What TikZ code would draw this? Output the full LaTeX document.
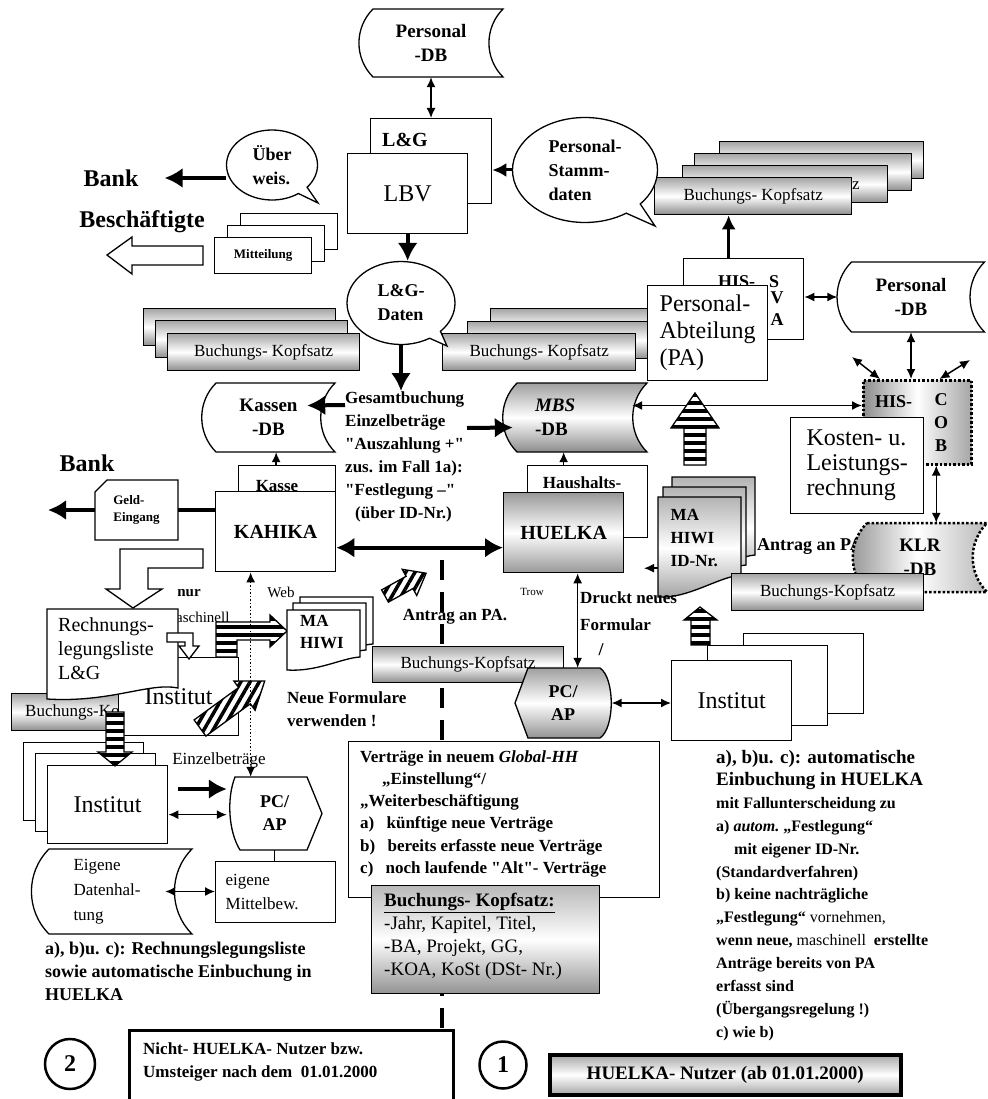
\documentclass[tikz,border=0pt]{standalone}
\usepackage{fontspec}
\setmainfont{Liberation Serif}
\usepackage{tikz}
\usetikzlibrary{arrows.meta,shapes.callouts,patterns.meta}
\tikzset{font={\fontsize{17pt}{22pt}\selectfont}}
\newcommand{\fsz}[2]{\fontsize{#1pt}{#2pt}\selectfont}
\newcommand{\dbstore}[4][]{\draw[line width=1.3pt,fill=white,#1,shift={(#2)}]
  (-#3/2+14,-#4/2) -- (#3/2,-#4/2) to[bend right=45] (#3/2,#4/2)
  -- (-#3/2+14,#4/2) to[bend left=45] (-#3/2+14,-#4/2) -- cycle;}

\begin{document}
\begin{tikzpicture}[x=1pt,y=-1pt,
box/.style={draw,line width=1.3pt,fill=white,inner sep=0pt,anchor=north west},
bar/.style={box,top color=gray!70,bottom color=gray!90,middle color=white,minimum height=37pt,font=\fsz{17}{20}},
tb/.style 2 args={inner sep=0pt,align=left,font=\bfseries\fsz{#1}{#2}},
tr/.style 2 args={inner sep=0pt,align=left,font=\fsz{#1}{#2}},
dbtxt/.style={inner sep=0pt,align=center,font=\bfseries\fsz{19}{24}},
call/.style={ellipse callout,draw,line width=1.3pt,fill=white,inner sep=0pt,align=left,font=\bfseries\fsz{18}{24}},
arr/.style={line width=1.5pt,-{Latex[length=10pt,width=9pt]}},
darr/.style={line width=1.5pt,{Latex[length=10pt,width=9pt]}-{Latex[length=10pt,width=9pt]}},
fat/.style={line width=4pt,-{Latex[length=18pt,width=20pt]}},
fatd/.style={line width=4pt,{Latex[length=18pt,width=20pt]}-{Latex[length=18pt,width=20pt]}},
midarr/.style={line width=3pt,-{Latex[length=14pt,width=14pt]}},
hollow/.style={draw,line width=1.3pt,fill=white},
striped/.style={draw,line width=1.3pt,preaction={fill=white},pattern={Lines[angle=#1,distance=8pt,line width=3.5pt]}},
dotline/.style={line width=2.5pt,dash pattern=on 2.5pt off 2pt}
]
\path[use as bounding box,fill=white] (0,0) rectangle (987,1099);
\draw[line width=4pt,dash pattern=on 20pt off 12pt] (442,560) -- (442,1035);

\dbstore{431,43}{144}{68}
\node[dbtxt,minimum width=144pt,minimum height=68pt] (persdb) at (431,43) {Personal\\-DB};
\node[box,minimum width=121pt,minimum height=85pt] (lg) at (370,118) {};
\node[tb={20}{24},anchor=west] (lgt) at (382,140) {L\&G};
\node[box,minimum width=120pt,minimum height=80pt,font=\fsz{24}{28}] (lbv) at (347,153) {LBV};
\draw[darr] (persdb.south) -- (persdb.south |- lg.north);

\foreach \px/\py/\w/\n in {719/141/204/1,694/153/217/2,682/165/205/3}
  \node[bar,minimum width=\w pt] (bk\n) at (\px,\py) {};
\node[tr={17}{20}] (bk3t) at (856,186) {z};
\node[bar,minimum width=197pt] (bk4) at (654,177) {Buchungs- Kopfsatz};

\node[call,minimum width=145pt,minimum height=105pt,callout absolute pointer={(655,226)}] (stamm) at (585,170) {Personal-\\Stamm-\\daten};
\draw[midarr] (stamm.west) -- (stamm.west -| lg.east);

\node[call,minimum width=91pt,minimum height=70pt,callout absolute pointer={(318,203)}] (ueber) at (272,165) {Über\\weis.};
\node[tb={24}{28}] (bank1) at (111,178) {Bank};
\draw[fat,shorten >=26pt] (ueber.west |- bank1) -- (bank1.east);
\node[tb={24}{28}] (besch) at (142,222) {Beschäftigte};
\draw[hollow] (203,246) -- (132,246) -- (132,237) -- (107,255) -- (132,274) -- (132,265) -- (203,265) -- cycle;
\foreach \d in {2,1}
  \node[box,minimum width=97pt,minimum height=36pt] (mitt\d) at (214+13*\d,237-12*\d) {};
\node[box,minimum width=97pt,minimum height=36pt,font=\bfseries\fsz{13}{15}] (mitt) at (214,237) {Mitteilung};

\foreach \px/\py/\n in {143/308/1,155/320/2}
  \node[bar,minimum width=192pt] (bl\n) at (\px,\py) {};
\node[bar,minimum width=192pt] (bl3) at (167,333) {Buchungs- Kopfsatz};
\foreach \px/\py/\n in {490/308/1,467/321/2}
  \node[bar,minimum width=193pt] (bm\n) at (\px,\py) {};
\node[bar,minimum width=193pt] (bm3) at (442,333) {Buchungs- Kopfsatz};

\node[call,minimum width=108pt,minimum height=83pt,callout absolute pointer={(447,346)}] (lgdaten) at (401,303) {L\&G-\\Daten};
\draw[fat] (lbv.south) -- (lbv.south |- lgdaten.north);

\node[box,minimum width=120pt,minimum height=81pt] (hissva) at (683,258) {};
\node[tb={18}{22},anchor=west] (hissvat) at (718,282) {HIS-\hspace{14pt}S};
\node[tb={18}{22},anchor=north] (hissvava) at (777,292) {V\\A};
\node[box,minimum width=120pt,minimum height=95pt,align=left,font=\fsz{24}{27}] (pa) at (647,285) {Personal-\\Abteilung\\(PA)};
\draw[midarr] ([xshift=-15pt]hissva.north) -- ([xshift=-15pt]hissva.north |- bk4.south);

\dbstore{911,297}{147}{70}
\node[dbtxt,minimum width=147pt,minimum height=70pt] (persdb2) at (911,297) {Personal\\-DB};
\draw[darr] (hissva.east |- persdb2) -- (persdb2.west);

\node[box,dotline,left color=gray!90,right color=gray!70,middle color=white,minimum width=108pt,minimum height=84pt] (hiscob) at (862,379) {};
\node[tb={18}{22},anchor=west] (hiscobt) at (875,402) {HIS-};
\node[tb={18}{23},anchor=north,align=center] (hiscobv) at (941,393) {C\\O\\B};
\coordinate (dl) at (852,357);
\coordinate (dr) at (970,360);
\draw[darr] (persdb2.south) -- (persdb2.south |- hiscob.north);
\draw[darr] (dl) -- ([xshift=18pt]hiscob.north west);
\draw[darr] (dr) -- ([xshift=-33pt]hiscob.north east);
\node[box,minimum width=133pt,minimum height=96pt,align=left,font=\fsz{24}{25}] (klr) at (790,417) {Kosten- u.\\Leistungs-\\rechnung};

\dbstore[top color=gray!75,bottom color=gray!90,middle color=white]{575,417.5}{144}{69}
\node[dbtxt,minimum width=144pt,minimum height=69pt,text width=80pt,align=left] (mbsdb) at (575,417.5) {\textit{MBS}\\-DB};
\draw[darr] ([xshift=-15pt,yshift=12pt]mbsdb.east) -- ([yshift=12pt]mbsdb.east -| hiscob.west);
\draw[striped=0] (684,465) -- (684,428) -- (671,428) -- (695,393) -- (719,428) -- (706,428) -- (706,465) -- cycle;

\dbstore{268.5,417.5}{133}{69}
\node[dbtxt,minimum width=133pt,minimum height=69pt] (kassendb) at (268.5,417.5) {Kassen\\-DB};
\node[tb={17}{23},anchor=north west] (gesamt) at (345,391) {Gesamtbuchung\\Einzelbeträge\\\textquotedbl Auszahlung +\textquotedbl\\zus. im Fall 1a):\\\textquotedbl Festlegung –\textquotedbl\\\hspace{10pt}(über ID-Nr.)};
\draw[fat] (lgdaten.south) -- (lgdaten.south |- gesamt.north);
\draw[fat] ([yshift=-14pt]gesamt.north west) -- ([xshift=-28pt,yshift=12pt]kassendb.east);
\draw[fat] ([xshift=122pt,yshift=-37pt]gesamt.north west) -- ([xshift=10pt,yshift=-10pt]mbsdb.west);

\node[box,minimum width=97pt,minimum height=60pt] (kasse) at (238,465) {};
\node[tb={17}{20}] (kasset) at (277,486) {Kasse};
\draw[arr] ([xshift=-11pt]kasse.north) -- ([xshift=-11pt]kasse.north |- kassendb.south);
\node[box,minimum width=120pt,minimum height=80pt,font=\bfseries\fsz{20}{24}] (kahika) at (215,491) {KAHIKA};

\node[tb={24}{28}] (bank2) at (87,463) {Bank};
\draw[line width=1.3pt,fill=white] (95,492) -- (107,480) -- (178,480) -- (178,540) -- (95,540) -- cycle;
\node[tb={13}{17},minimum width=83pt,minimum height=60pt] (geld) at (136.5,510) {Geld-\\Eingang};
\coordinate (geldout) at (48,510);
\draw[line width=4pt] (kahika.west |- geld.east) -- (geld.east);
\draw[fat] (geld.west) -- (geldout);

\node[box,minimum width=120pt,minimum height=72pt] (haushalt) at (527,465) {};
\node[tb={17}{20}] (haushaltt) at (582,483) {Haushalts-};
\draw[arr] ([xshift=-24pt]haushalt.north) -- ([xshift=-24pt]haushalt.north |- mbsdb.south);
\node[box,top color=gray!80,bottom color=gray!80,middle color=white,minimum width=120pt,minimum height=80pt,font=\bfseries\fsz{20}{24}] (huelka) at (503,492) {HUELKA};
\draw[fatd] ([yshift=-16pt]kahika.east) -- ([yshift=-15pt]huelka.west);

\foreach \px/\py in {672/477,663/487,658/497}
  \draw[line width=1.3pt,top color=gray!60,bottom color=gray!75,middle color=white,shift={(\px,\py)}] (0,0) -- (83,0) -- (83,78) .. controls (60,80) and (30,102) .. (0,100) -- cycle;
\node[tb={17}{23},anchor=north west,minimum width=83pt,minimum height=82pt,text width=58pt] (mahiwi) at (658,497) {MA\\HIWI\\ID-Nr.};
\draw[arr] ([yshift=-30pt]mahiwi.west) -- ++(-14,0);
\node[tb={18}{20},anchor=west] (antrag2) at (757,547) {Antrag an PA.};

\dbstore[dotline,left color=gray!85,right color=gray!55,middle color=white]{920,557.5}{134}{69}
\node[dbtxt,minimum width=134pt,minimum height=69pt] (klrdb) at (920,557.5) {KLR\\-DB};
\draw[darr] ([xshift=19pt]hiscob.south) -- ([xshift=19pt]hiscob.south |- klrdb.north);

\node[bar,minimum width=192pt] (bkr) at (731,573) {Buchungs-Kopfsatz};
\draw[striped=0] (691,645) -- (691,620) -- (684,620) -- (700,607) -- (717,620) -- (710,620) -- (710,645) -- cycle;
\foreach \px/\py/\n in {743/633/1,707/645/2}
  \node[box,minimum width=120pt,minimum height=80pt] (instr\n) at (\px,\py) {};
\node[box,minimum width=120pt,minimum height=80pt,font=\fsz{24}{28}] (instr3) at (671,660) {Institut};

\node[bar,minimum width=150pt] (bkl) at (11,693) {};
\node[tr={17}{20},anchor=west] (bklt) at (25,712) {Buchungs-Kopfsatz};
\node[box,minimum width=120pt,minimum height=78pt,font=\fsz{24}{28}] (instm) at (118,657) {Institut};
\node[font=\bfseries\fsz{15}{18}] (nur) at (189,593) {nur};
\node[font=\fsz{15}{18},anchor=east] (masch) at (233,617) {maschinell};
\draw[hollow] (203,549) -- (120,549) -- (120,589) -- (106,589) -- (133,608) -- (162,589) -- (148,589) -- (148,568) -- (203,568) -- cycle;
\draw[line width=1.3pt,fill=white] (47,609) -- (178,609) -- (178,688) .. controls (150,682) and (110,703) .. (47,699) -- cycle;
\node[tr={20}{24},anchor=north west] (rechliste) at (58,617) {Rechnungs-\\legungsliste\\L\&G};
\draw[hollow] (167,633) -- (193,633) -- (193,646) -- (199,646) -- (189,659) -- (179,646) -- (185,646) -- (185,642) -- (167,642) -- cycle;
\draw[striped=0] (216,657) -- (216,622) -- (270,622) -- (270,615) -- (287,631) -- (270,647) -- (270,640) -- (237,640) -- (237,657) -- cycle;
\draw[striped=60,shift={(200,728)},rotate=36] (0,-10) -- (55,-10) -- (55,-18) -- (80,0) -- (55,18) -- (55,10) -- (0,10) -- cycle;
\foreach \px/\py in {300/597,293/603,287/610}
  \draw[line width=1.3pt,fill=white,shift={(\px,\py)}] (0,0) -- (73,0) -- (73,47) .. controls (55,48) and (30,62) .. (0,60) -- cycle;
\node[tb={17}{22},anchor=north west] (mahiwil) at (300,615) {MA\\HIWI};
\node[font=\fsz{15}{18}] (web) at (281,592) {Web};
\node[bar,minimum width=191pt,minimum height=36pt] (bkc) at (372,646) {Buchungs-Kopfsatz};

\draw[line width=1.3pt,top color=gray!75,bottom color=gray!85,middle color=white,shift={(563,703)}] (-35,-35) -- (37,-35) .. controls (52,-25) and (52,25) .. (37,35) -- (-35,35) -- (-48,0) -- cycle;
\node[tb={18}{23},align=center,minimum width=97pt,minimum height=70pt] (pcap1) at (563,703) {PC/\\AP};
\draw[darr] (pcap1.east) -- (pcap1.east -| instr3.west);
\draw[darr] ([xshift=14pt]huelka.south) -- ([xshift=14pt]huelka.south |- pcap1.north);
\node[tb={17}{27},anchor=north west] (druckt) at (580,591) {Druckt neues\\Formular};
\node[tb={18}{20}] (slash) at (601,650) {/};
\node[font=\fsz{11}{13}] (trow) at (532,592) {Trow};

\draw[striped=60,shift={(385,596)},rotate=29] (0,-7) -- (28,-7) -- (28,-15) -- (47,0) -- (28,15) -- (28,7) -- (0,7) -- cycle;
\node[tb={17}{20}] (antrag1) at (455,617) {Antrag an PA.};
\node[tb={17}{23},anchor=north west] (neue) at (287,691) {Neue Formulare\\verwenden !};

\foreach \px/\py/\n in {23/742/1,35/753/2}
  \node[box,minimum width=120pt,minimum height=78pt] (instl\n) at (\px,\py) {};
\node[box,minimum width=120pt,minimum height=78pt,font=\fsz{24}{28}] (instl3) at (47,765) {Institut};
\draw[striped=0] (106,712) -- (124,712) -- (124,752) -- (132,752) -- (115,766) -- (98,752) -- (106,752) -- cycle;
\node[tr={17}{20}] (einz) at (219,760) {Einzelbeträge};

\draw[line width=1.3pt,fill=white,shift={(274.5,813.5)}] (-39.5,-36.5) -- (32.5,-36.5) -- (47.5,0) -- (32.5,36.5) -- (-34.5,36.5) .. controls (-46,18) and (-48,-15) .. (-39.5,-36.5) -- cycle;
\node[tb={18}{23},align=center,minimum width=95pt,minimum height=73pt] (pcap2) at (274.5,813.5) {PC/\\AP};
\coordinate (ein) at (178,789);
\draw[fat] (ein) -- (ein -| pcap2.west);
\draw[darr] ([yshift=-10pt]instl3.east) -- ([yshift=-10pt]instl3.east -| pcap2.west);
\draw[darr,dotted] ([xshift=-25pt]kahika.south) -- ([xshift=-25pt]kahika.south |- pcap2.north);
\node[box,minimum width=120pt,minimum height=61pt,font=\fsz{17}{24},align=left,text width=100pt] (mittel) at (215,861) {eigene\\Mittelbew.};
\draw[line width=1.3pt] (pcap2.south) -- (pcap2.south |- mittel.north);
\dbstore{113.5,891.5}{157}{85}
\node[tr={17}{25},minimum width=157pt,minimum height=85pt,text width=80pt] (eigene) at (113.5,891.5) {Eigene\\Datenhal-\\tung};
\draw[darr] ([xshift=-27pt]eigene.east) -- (eigene.east -| mittel.west);

\node[tb={18}{23},anchor=north west] (notel) at (45,942) {a), b)u. c): Rechnungslegungsliste\\sowie automatische Einbuchung in\\HUELKA};
\node[circle,draw,line width=2.5pt,minimum size=50pt,inner sep=0pt,font=\bfseries\fsz{24}{28}] (c2) at (70,1064) {2};
\node[box,line width=3pt,minimum width=324pt,minimum height=80pt] (nicht) at (128,1029) {};
\node[tb={17}{23},anchor=north west] (nichtt) at (143,1042) {Nicht- HUELKA- Nutzer bzw.\\Umsteiger nach dem\ \ 01.01.2000};

\node[box,minimum width=311pt,minimum height=156pt] (vertr) at (348,741) {};
\node[tb={17}{22.3},anchor=north west] (vertrt) at (360,750) {Verträge in neuem \textit{Global-HH}\\\hspace{22pt}„Einstellung“/\\„Weiterbeschäftigung\\a)\hspace{8pt} künftige neue Verträge\\b)\hspace{8pt} bereits erfasste neue Verträge\\c)\hspace{8pt} noch laufende \textquotedbl Alt\textquotedbl- Verträge};
\node[box,top color=gray!55,bottom color=gray!85,middle color=white,minimum width=228pt,minimum height=108pt] (bkbox) at (371,885) {};
\node[tr={19}{23},anchor=north west] (bkboxt) at (384,893) {\textbf{\underline{Buchungs- Kopfsatz:}}\\-Jahr, Kapitel, Titel,\\-BA, Projekt, GG,\\-KOA, KoSt (DSt- Nr.)};

\node[tb={19}{22},anchor=north west] (autot) at (716,750) {a), b)u. c): automatische\\Einbuchung in HUELKA};
\node[tb={16}{22.9},anchor=north west] (autob) at (716,797) {mit Fallunterscheidung zu\\a) \textit{autom.}\ „Festlegung“\\\hspace{18pt}mit eigener ID-Nr.\\(Standardverfahren)\\b) keine nachträgliche\\„Festlegung“ {\mdseries vornehmen,}\\wenn neue, {\mdseries maschinell}\ \ erstellte\\Anträge bereits von PA\\erfasst sind\\(Übergangsregelung !)\\c) wie b)};

\node[circle,draw,line width=2.5pt,minimum size=47pt,inner sep=0pt,font=\bfseries\fsz{24}{28}] (c1) at (503,1065) {1};
\node[box,line width=3.5pt,top color=gray!70,bottom color=gray!70,middle color=white,minimum width=351pt,minimum height=40pt,font=\bfseries\fsz{19}{22}] (nutzer) at (548,1053) {HUELKA- Nutzer (ab 01.01.2000)};
\end{tikzpicture}
\end{document}
